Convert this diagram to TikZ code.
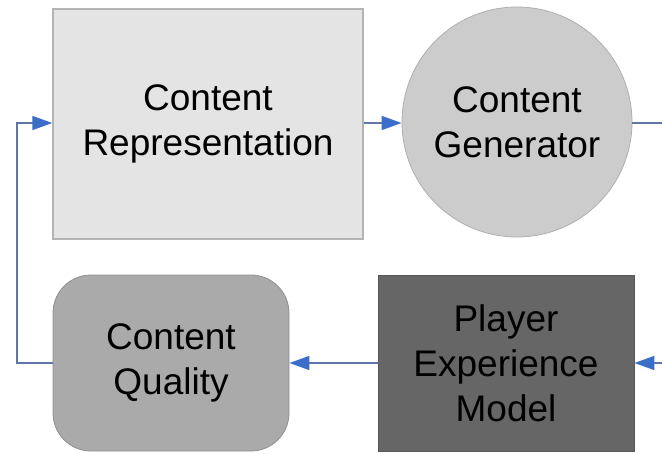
\documentclass[tikz,border=0pt]{standalone}
\usepackage{fontspec}
\setmainfont{Liberation Sans}
\usetikzlibrary{arrows.meta}

\definecolor{linkgray}{RGB}{96,118,168}
\definecolor{tipblue}{RGB}{58,110,200}
\definecolor{reprfill}{RGB}{228,228,228}
\definecolor{reprline}{RGB}{180,180,180}
\definecolor{genfill}{RGB}{204,204,204}
\definecolor{genline}{RGB}{175,175,175}
\definecolor{qualfill}{RGB}{170,170,170}
\definecolor{pemfill}{RGB}{102,102,102}

\tikzset{
  block/.style={inner sep=0pt, align=center,
    font=\fontsize{37}{45}\selectfont},
  link/.style={draw=linkgray, line width=1.6pt,
    -{Triangle[length=20pt,width=14pt,color=tipblue]}}
}

\begin{document}
\begin{tikzpicture}[x=1pt,y=-1pt]
  \useasboundingbox (0,0) rectangle (662,453);

  % top row
  \node[block, draw=reprline, fill=reprfill, minimum width=310pt, minimum height=230pt, line width=1.5pt]
    (repr) at (208,124) {Content\\Representation};
  \node[block, draw=genline, fill=genfill, circle, minimum size=230pt, line width=0.8pt]
    (gen) at (517,122) {Content\\Generator};

  % bottom row
  \node[block, draw=qualfill!85!black, fill=qualfill, rounded corners=38pt, minimum width=236pt, minimum height=176pt, line width=0.8pt]
    (qual) at (171,363) {Content\\Quality};
  \node[block, draw=pemfill!85!black, fill=pemfill, minimum width=256pt, minimum height=176pt, line width=0.8pt]
    (pem) at (506,363) {Player\\Experience\\Model};

  % loop corners
  \coordinate (rtop) at (690,123);
  \coordinate (rbot) at (690,363);
  \coordinate (lbot) at (17,363);
  \coordinate (ltop) at (17,123);

  % connectors
  \draw[link] (repr.east |- 0,123) -- (gen.west |- 0,123);
  \draw[draw=linkgray, line width=1.6pt] (gen.east |- 0,123) -- (rtop) -- (rbot);
  \draw[link] (rbot) -- (pem.east);
  \draw[link] (pem.west) -- (qual.east);
  \draw[link] (qual.west) -- (lbot) -- (ltop) -- (repr.west |- 0,123);
\end{tikzpicture}
\end{document}
